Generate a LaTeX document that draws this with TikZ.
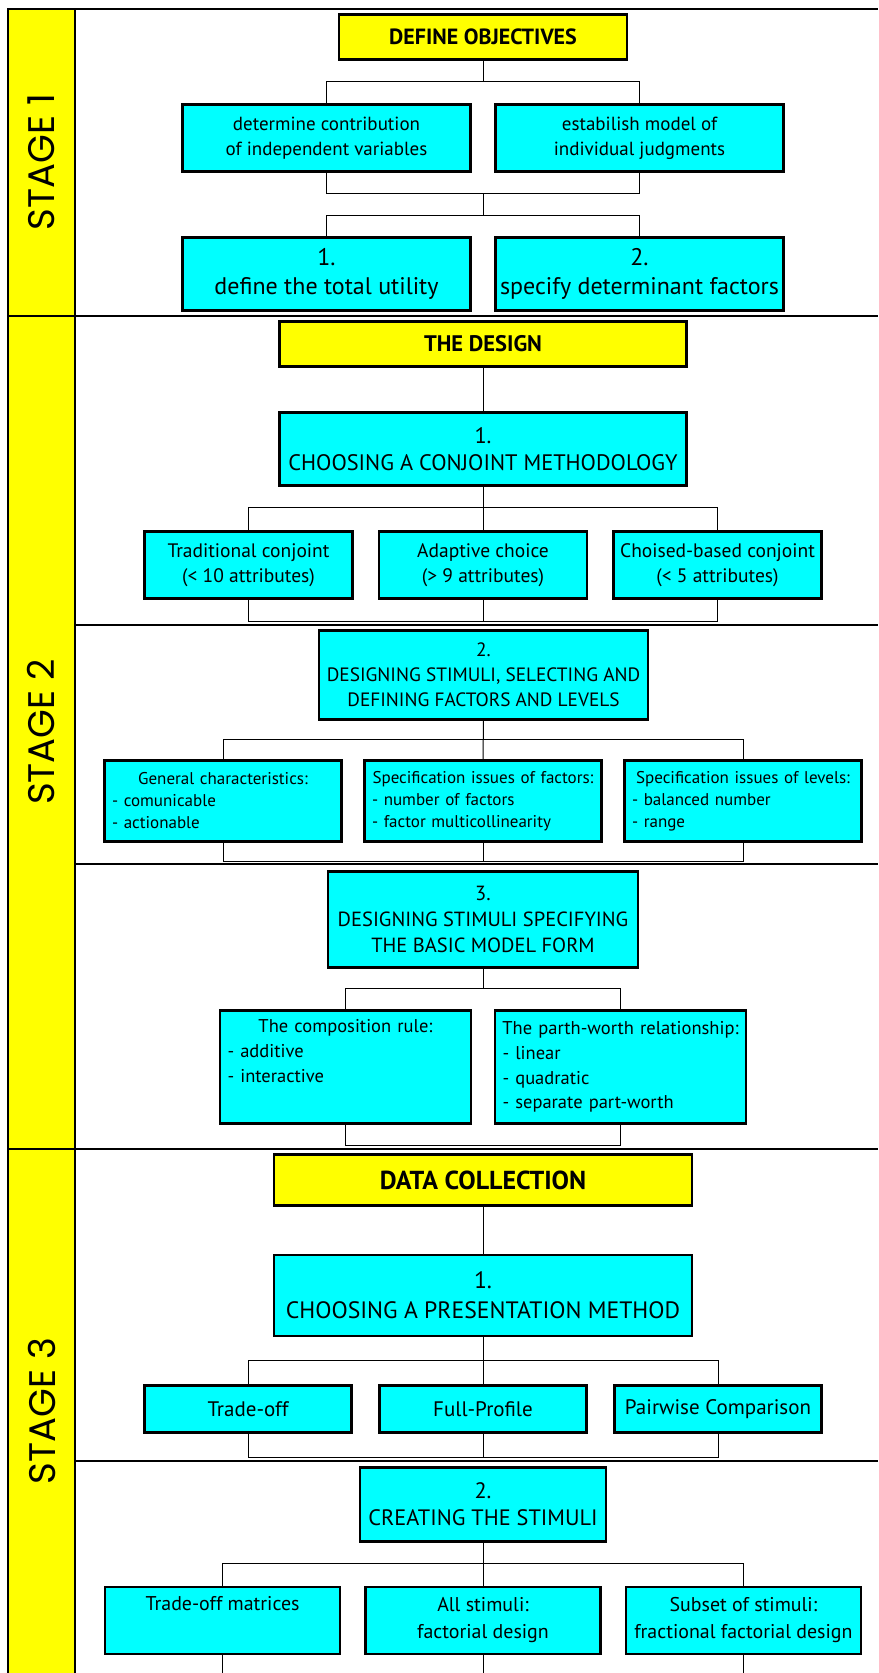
\documentclass[tikz,border=0pt]{standalone}
\usepackage{fontspec}
\setmainfont{PT Sans}
\newfontfamily\stagefont{Poppins}
\usetikzlibrary{positioning}
\definecolor{aqua}{RGB}{0,255,255}
\definecolor{lemon}{RGB}{255,255,0}
\newcommand{\fs}[2]{\fontsize{#1}{#2}\selectfont}

\begin{document}
\begin{tikzpicture}[x=1pt, y=-1pt,
    goal/.style={draw, line width=2.6pt, fill=lemon, inner sep=0pt},
    task/.style={draw, line width=2.6pt, fill=aqua, inner sep=0pt, align=center},
    list/.style={task, align=left, text width=#1},
    dims/.style 2 args={minimum width=#1, minimum height=#2},
    wire/.style={line width=1pt},
    sep/.style={line width=2pt},
    stage/.style={rotate=90, font=\stagefont\fs{37}{42}}]
                \useasboundingbox (0,0) rectangle (878,1673);

                % stage column and frame
                \fill[lemon] (8.4,9) rectangle (74.5,1673);
                \draw[sep] (8.4,1673) -- (8.4,9) -- (878,9);
                \draw[sep] (74.5,9) -- (74.5,1673);
                \draw[sep] (8.4,315.7) -- (878,315.7);
                \draw[sep] (8.4,1148.7) -- (878,1148.7);
                \draw[sep] (74.5,624.5) -- (878,624.5);
                \draw[sep] (74.5,864.3) -- (878,864.3);
                \draw[sep] (74.5,1460.7) -- (878,1460.7);

                \node[stage] (s1) at (41.5,162) {STAGE 1};
                \node[stage] (s2) at (41.5,732) {STAGE 2};
                \node[stage] (s3) at (41.5,1411) {STAGE 3};

                % stage 1
                \node[goal, dims={288}{45}, font=\fs{22}{26}\bfseries] (1) at (483,37) {DEFINE OBJECTIVES};
                \node[task, dims={288}{67}, font=\fs{19}{25}] (2) at (326.5,138) {determine contribution\\of independent variables};
                \node[task, dims={288}{67}, font=\fs{19}{25}] (3) at (639.5,138) {estabilish model of\\individual judgments};
                \node[task, dims={288}{73}, font=\fs{24}{29}] (4) at (326.5,274) {1.\\define the total utility};
                \node[task, dims={288}{73}, font=\fs{24}{29}] (5) at (639.5,274) {2.\\specify determinant factors};

                % stage 2
                \node[goal, dims={407}{45}, font=\fs{22.5}{26}\bfseries] (6) at (483,344) {THE DESIGN};
                \node[task, dims={407}{73}, font=\fs{22.4}{27}] (7) at (483,448.7) {1.\\CHOOSING A CONJOINT METHODOLOGY};
                \node[task, dims={208}{67}, font=\fs{19.5}{25}] (8) at (248.5,565) {Traditional conjoint\\(< 10 attributes)};
                \node[task, dims={208}{67}, font=\fs{19.5}{25}] (9) at (483,565) {Adaptive choice\\(> 9 attributes)};
                \node[task, dims={208}{67}, font=\fs{19.5}{25}] (10) at (717.5,565) {Choised-based conjoint\\(< 5 attributes)};

                \node[task, dims={329}{89}, font=\fs{19.3}{25}] (11) at (483.5,675) {2.\\DESIGNING STIMULI, SELECTING AND\\DEFINING FACTORS AND LEVELS};
                \node[list=222, dims={237}{81}, font=\fs{17}{22}] (12) at (223,801) {\makebox[\linewidth]{General characteristics:}\\- comunicable\\- actionable};
                \node[list=222, dims={237}{81}, font=\fs{17}{22}] (13) at (483,801) {\makebox[\linewidth]{Specification issues of factors:}\\- number of factors\\- factor multicollinearity};
                \node[list=222, dims={237}{81}, font=\fs{17}{22}] (14) at (743,801) {\makebox[\linewidth]{Specification issues of levels:}\\- balanced number\\- range};

                \node[task, dims={310}{96}, font=\fs{20.5}{26}] (15) at (483,919.6) {3.\\DESIGNING STIMULI SPECIFYING\\THE BASIC MODEL FORM};
                \node[list=236, dims={251}{113}, font=\fs{18.5}{24.7}] (16) at (345.5,1067) {\makebox[\linewidth]{The composition rule:}\\- additive\\- interactive\\\strut};
                \node[list=236, dims={251}{113}, font=\fs{18.5}{24.7}] (17) at (620.5,1067) {\makebox[\linewidth]{The parth-worth relationship:}\\- linear\\- quadratic\\- separate part-worth};

                % stage 3
                \node[goal, dims={418}{51}, font=\fs{26}{30}\bfseries] (18) at (483,1180) {DATA COLLECTION};
                \node[task, dims={418}{81}, font=\fs{23.7}{30}] (19) at (483,1295.5) {1.\\CHOOSING A PRESENTATION METHOD};
                \node[task, dims={207}{47}, font=\fs{21}{26}] (20) at (248,1409) {Trade-off};
                \node[task, dims={207}{47}, font=\fs{21}{26}] (21) at (483,1409) {Full-Profile};
                \node[task, dims={207}{47}, font=\fs{21}{26}] (22) at (718,1409) {Pairwise Comparison};

                \node[task, dims={246}{74}, font=\fs{22.3}{27.7}] (23) at (483,1504.3) {2.\\CREATING THE STIMULI};
                \node[task, dims={235}{67}, font=\fs{19.9}{26.6}] (24) at (222.6,1620.3) {Trade-off matrices\\\strut};
                \node[task, dims={235}{67}, font=\fs{19.9}{26.6}] (25) at (483,1620.3) {All stimuli:\\factorial design};
                \node[task, dims={235}{67}, font=\fs{19.9}{26.6}] (26) at (743.4,1620.3) {Subset of stimuli:\\fractional factorial design};

                % connectors
                \coordinate (j1) at (483,194);
                \draw[wire] (1.south) -- ++(0,21) -| (2.north);
                \draw[wire] (1.south) -- ++(0,21) -| (3.north);
                \draw[wire] (2.south) -- ++(0,21) -| (3.south);
                \draw[wire] (j1) -- ++(0,21) -| (4.north);
                \draw[wire] (j1) -- ++(0,21) -| (5.north);

                \draw[wire] (6) -- (7);
                \draw[wire] (7.south) -- ++(0,21.3) -| (8.north);
                \draw[wire] (7.south) -- ++(0,21.3) -| (10.north);
                \draw[wire] (7) -- (9);
                \draw[wire] (8.south) -- ++(0,21.7) -| (10.south);
                \draw[wire] (9.south) -- ++(0,21.7);

                \draw[wire] (11.south) -- ++(0,19) -| (12.north);
                \draw[wire] (11.south) -- ++(0,19) -| (14.north);
                \draw[wire] (11) -- (13);
                \draw[wire] (12.south) -- ++(0,18.7) -| (14.south);
                \draw[wire] (13.south) -- ++(0,18.7);

                \draw[wire] (15.south) -- ++(0,20) -| (16.north);
                \draw[wire] (15.south) -- ++(0,20) -| (17.north);
                \draw[wire] (16.south) -- ++(0,20.3) -| (17.south);

                \draw[wire] (18) -- (19);
                \draw[wire] (19.south) -- ++(0,23) -| (20.north);
                \draw[wire] (19.south) -- ++(0,23) -| (22.north);
                \draw[wire] (19) -- (21);
                \draw[wire] (20.south) -- ++(0,23.3) -| (22.south);
                \draw[wire] (21.south) -- ++(0,23.3);

                \draw[wire] (23.south) -- ++(0,20.6) -| (24.north);
                \draw[wire] (23.south) -- ++(0,20.6) -| (26.north);
                \draw[wire] (23) -- (25);
                \draw[wire] (24.south) -- ++(0,20);
                \draw[wire] (25.south) -- ++(0,20);
                \draw[wire] (26.south) -- ++(0,20);
\end{tikzpicture}
\end{document}
